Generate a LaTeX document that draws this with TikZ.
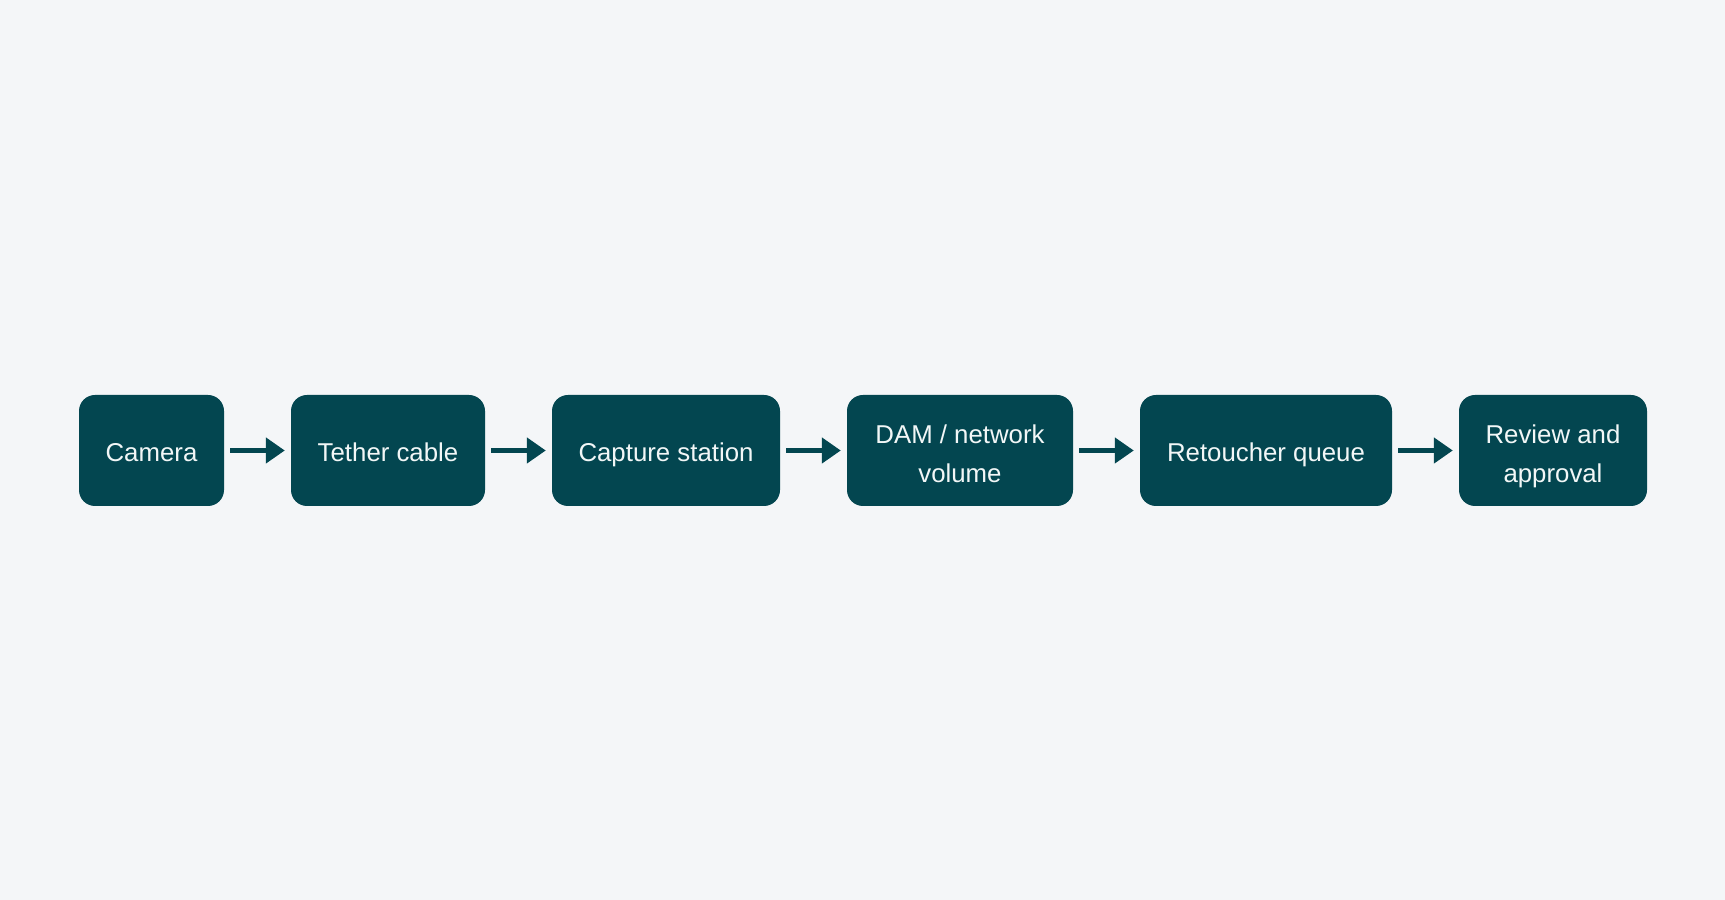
\documentclass[tikz,border=0pt]{standalone}
\usepackage{fontspec}
\setmainfont{Liberation Sans}
\usetikzlibrary{arrows.meta}
\definecolor{bgc}{HTML}{F4F6F8}
\definecolor{boxc}{HTML}{034650}
\definecolor{txtc}{HTML}{F2F7F7}
\tikzset{
  stage/.style={draw=none, fill=boxc, rounded corners=16pt,
    minimum height=111pt, inner sep=0pt},
  stagetext/.style={text=txtc, inner sep=0pt, align=center,
    font=\fontsize{25.8pt}{38.5pt}\selectfont},
  oneline/.style={stagetext, anchor=base, yshift=-11pt},
  twoline/.style={stagetext, text depth=0pt, yshift=-3.3pt},
  flow/.style={draw=boxc, line width=4.6pt,
    -{Triangle[length=19pt,width=25pt]}, shorten <=6pt, shorten >=6pt}
}
\begin{document}
\begin{tikzpicture}[x=1pt,y=1pt]
\fill[bgc] (0,0) rectangle (1725,900);
\useasboundingbox (0,0) rectangle (1725,900);
\node[stage, minimum width=145pt] (a) at (151.5,449.5) {};
\node[stage, minimum width=194pt] (b) at (388,449.5) {};
\node[stage, minimum width=228pt] (c) at (666,449.5) {};
\node[stage, minimum width=226pt] (d) at (960,449.5) {};
\node[stage, minimum width=252pt] (e) at (1266,449.5) {};
\node[stage, minimum width=188pt] (f) at (1553,449.5) {};
\node[oneline] (at) at (a.center) {Camera};
\node[oneline] (bt) at (b.center) {Tether cable};
\node[oneline] (ct) at (c.center) {Capture station};
\node[twoline] (dt) at (d.center) {DAM / network\\volume};
\node[oneline] (et) at (e.center) {Retoucher queue};
\node[twoline] (ft) at (f.center) {Review and\\approval};
\draw[flow] (a.east) -- (b.west);
\draw[flow] (b.east) -- (c.west);
\draw[flow] (c.east) -- (d.west);
\draw[flow] (d.east) -- (e.west);
\draw[flow] (e.east) -- (f.west);
\end{tikzpicture}
\end{document}
